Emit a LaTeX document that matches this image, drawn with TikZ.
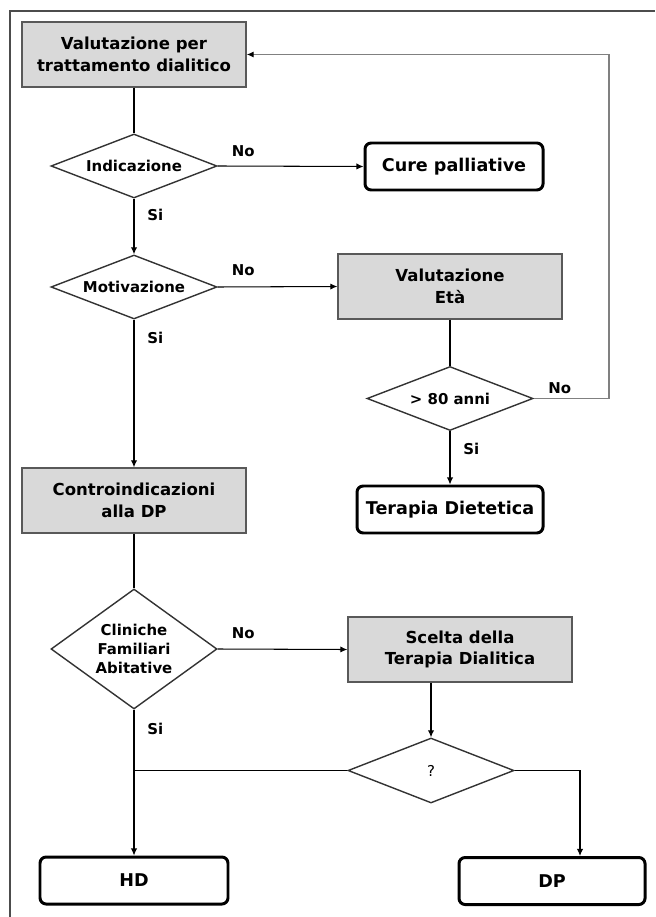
\documentclass[tikz,border=0pt]{standalone}
\usepackage{fontspec}
\setmainfont{DejaVu Sans}
\usetikzlibrary{positioning,calc,shapes.geometric,arrows.meta}

\begin{document}
\begin{tikzpicture}[
    gbox/.style={draw=black!65, line width=0.8pt, fill=black!15, rectangle, minimum width=44.8mm, minimum height=13mm, align=center, font=\fontsize{9.4}{12.3}\selectfont\bfseries},
    endbox/.style={draw, line width=1.7pt, rectangle, rounded corners=3.5pt, minimum height=9.4mm, align=center, font=\fontsize{10}{12}\selectfont\bfseries},
    test/.style={draw=black!80, line width=0.8pt, diamond, aspect=2.6, inner sep=0pt, minimum width=33.2mm, minimum height=12.8mm, align=center, font=\fontsize{8.5}{10.8}\selectfont\bfseries},
    lbl/.style={font=\fontsize{8.5}{10}\selectfont\bfseries, inner sep=1pt},
    nolbl/.style={lbl, pos=0, above right, xshift=2.4mm, yshift=1.4mm},
    silbl/.style={lbl, pos=0, below right, xshift=2.2mm, yshift=-1.6mm},
    flow/.style={line width=0.6pt},
    back/.style={draw=black!50, line width=0.9pt},
    >={Latex[length=4pt,width=3.6pt]}
]

\useasboundingbox (0,0) rectangle (13.1,-18.34);

% Frame (only top and left sides visible)
\draw[black!70, line width=0.85pt] (0.2,-18.34) |- (13.1,-0.22);

% Main nodes
\node[gbox] (valut) at (2.68,-1.09) {Valutazione per\\trattamento dialitico};
\node[test] (indic) at (2.68,-3.32) {Indicazione};
\node[endbox, minimum width=35.6mm] (cure) at (9.08,-3.33) {Cure palliative};

\node[test] (motiv) at (2.68,-5.74) {Motivazione};
\node[gbox] (eta) at (9.0,-5.73) {Valutazione\\Età};
\node[test] (anni) at (9.0,-7.97) {> 80 anni};
\node[endbox, minimum width=37.2mm] (dieta) at (9.0,-10.19) {Terapia Dietetica};

\node[gbox] (contro) at (2.68,-10.01) {Controindicazioni\\alla DP};
\node[test, minimum height=24mm, aspect=1.4] (clin) at (2.68,-12.98) {Cliniche\\Familiari\\Abitative};
\node[gbox] (scelta) at (9.2,-12.99) {Scelta della\\Terapia Dialitica};
\node[test, minimum height=13mm, font=\fontsize{8.5}{10}\selectfont] (quest) at (8.62,-15.41) {?};

\node[endbox, minimum width=37.6mm] (hd) at (2.68,-17.61) {HD};
\node[endbox, minimum width=37.2mm] (dp) at (11.04,-17.62) {DP};

% Helper coordinates
\coordinate (loopR) at (12.18,-7.97);
\coordinate (hdjoin) at (quest.west -| hd.north);
\coordinate (dpturn) at (11.6,-15.41);

% Indication and motivation
\draw[flow] (valut) -- (indic);
\draw[flow,->] (indic.east) -- node[nolbl] {No} (cure.west);
\draw[flow,->] (indic.south) -- node[silbl] {Si} (motiv.north);
\draw[flow,->] (motiv.east) -- node[nolbl, yshift=0.5mm] {No} (eta.west);
\draw[flow,->] (motiv.south) -- node[silbl, yshift=-0.4mm] {Si} (contro.north);

% Age branch and loop back
\draw[flow] (eta) -- (anni);
\draw[flow,->] (anni.south) -- node[silbl, yshift=-0.4mm] {Si} (dieta.north);
\draw[back] (anni.east) -- node[nolbl, yshift=-0.9mm] {No} (loopR);
\draw[back, -{Latex[length=4pt,width=3.6pt,black]}] (loopR) |- (valut.east);

% Contraindications
\draw[flow] (contro) -- (clin);
\draw[flow,->] (clin.east) -- node[nolbl, yshift=0.3mm] {No} (scelta.west);
\draw[flow,->] (clin.south) -- node[silbl, yshift=-0.6mm] {Si} (hd.north);

% Choice of dialysis
\draw[flow,->] (scelta.south -| quest.north) -- (quest.north);
\draw[flow] (quest.west) -- (hdjoin);
\draw[flow,->] (quest.east) -- (dpturn) -- (dpturn |- dp.north);

\end{tikzpicture}
\end{document}
